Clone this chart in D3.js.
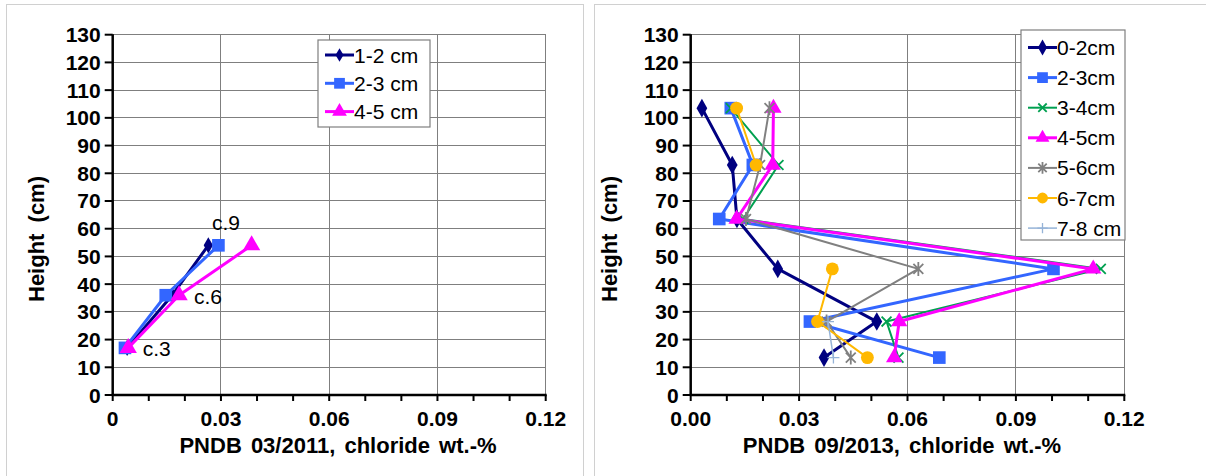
<!DOCTYPE html>
<html>
<head>
<meta charset="utf-8">
<script src="https://cdn.jsdelivr.net/npm/d3@7"></script>
<style>
  html, body { margin: 0; padding: 0; background: #fff; }
  svg { display: block; font-family: Arial, "Liberation Sans", sans-serif; }
</style>
</head>
<body>
<svg id="chart" width="1206" height="476"></svg>
<script>
// Sampling heights (cm) for each profile
const heights2011 = [17, 36, 54];
const heights2013 = [103.5, 83, 63.5, 45.5, 26.5, 13.5];

// PNDB 03/2011 chloride content (wt.-%) per depth interval
const s2011_12 = [0.0040, 0.0165, 0.0265];
const s2011_23 = [0.0034, 0.0147, 0.0293];
const s2011_45 = [0.0043, 0.0184, 0.0385];

// PNDB 09/2013 chloride content (wt.-%) per depth interval
const s2013_02 = [0.0031, 0.0115, 0.0128, 0.0241, 0.0515, 0.0369];
const s2013_23 = [0.0111, 0.0172, 0.0079, 0.1004, 0.0330, 0.0688];
const s2013_34 = [0.0111, 0.0243, 0.0145, 0.1135, 0.0542, 0.0575];
const s2013_45 = [0.0229, 0.0227, 0.0127, 0.1114, 0.0577, 0.0563];
const s2013_56 = [0.0218, 0.0192, 0.0153, 0.0630, 0.0376, 0.0443];
const s2013_67 = [0.0127, 0.0181, null, 0.0392, 0.0351, 0.0489];
const s2013_78 = [null, null, null, null, 0.0380, 0.0395];

// Axis ticks
const yTicks = d3.range(0, 131, 10);
const xMajor = [0, 0.03, 0.06, 0.09, 0.12];
const xMinor = d3.range(0, 0.1201, 0.01);
const xLabels2011 = ["0", "0.03", "0.06", "0.09", "0.12"];
const xLabels2013 = ["0.00", "0.03", "0.06", "0.09", "0.12"];

// Core-section annotations (value, height, label)
const notes2011 = [
  { v: 0.0275, h: 59.5, t: "c.9" },
  { v: 0.0225, h: 32.8, t: "c.6" },
  { v: 0.0083, h: 14.1, t: "c.3" }
];

const svg = d3.select("#chart");

// panel frames
svg.append("rect").attr("x", 6.5).attr("y", 4.5).attr("width", 577).attr("height", 480)
  .attr("fill", "none").attr("stroke", "#d0d0d0");
svg.append("rect").attr("x", 594.5).attr("y", 4.5).attr("width", 620).attr("height", 480)
  .attr("fill", "none").attr("stroke", "#d0d0d0");

// marker shapes: filled d3 symbols or stroked line glyphs
function markerPath(kind, r) {
  const p = d3.path();
  const seg = (a) => {
    const dx = r * Math.cos(a), dy = r * Math.sin(a);
    p.moveTo(-dx, -dy); p.lineTo(dx, dy);
  };
  if (kind === "x") { seg(Math.PI / 4); seg(-Math.PI / 4); }
  else if (kind === "star") { seg(Math.PI / 4); seg(-Math.PI / 4); seg(Math.PI / 2); }
  else if (kind === "plus") { seg(0); seg(Math.PI / 2); }
  return p.toString();
}
const symbolTypes = { diamond: d3.symbolDiamond, square: d3.symbolSquare, triangle: d3.symbolTriangle, circle: d3.symbolCircle };

function drawMarker(sel, s, scale) {
  if (symbolTypes[s.symbol]) {
    sel.attr("d", d3.symbol().type(symbolTypes[s.symbol]).size(s.size * scale * scale)())
      .attr("fill", s.color).attr("stroke", "none");
  } else {
    sel.attr("d", markerPath(s.symbol, s.size * scale))
      .attr("fill", "none").attr("stroke", s.color).attr("stroke-width", s.sw);
  }
}

function drawPanel(cfg) {
  const x = d3.scaleLinear().domain([0, 0.12]).range([cfg.x0, cfg.x1]);
  const y = d3.scaleLinear().domain([0, 130]).range([395, 34.7]);
  const g = svg.append("g");

  // grid
  g.selectAll(".hg").data(yTicks.filter(d => d > 0)).join("line")
    .attr("x1", x(0)).attr("x2", x(0.12))
    .attr("y1", d => y(d)).attr("y2", d => y(d))
    .attr("stroke", "#7f7f7f").attr("stroke-width", 1).attr("shape-rendering", "crispEdges");
  g.selectAll(".vg").data(xMajor.filter(d => d > 0)).join("line")
    .attr("x1", d => x(d)).attr("x2", d => x(d))
    .attr("y1", y(0)).attr("y2", y(130))
    .attr("stroke", "#7f7f7f").attr("stroke-width", 1).attr("shape-rendering", "crispEdges");

  // axes
  g.append("line").attr("x1", x(0)).attr("x2", x(0)).attr("y1", y(0) + 1).attr("y2", y(130) - 0.5)
    .attr("stroke", "#000").attr("stroke-width", 2.5);
  g.append("line").attr("x1", x(0) - 1).attr("x2", x(0.12) + 1).attr("y1", y(0)).attr("y2", y(0))
    .attr("stroke", "#000").attr("stroke-width", 2.5);
  g.selectAll(".yt").data(yTicks).join("line")
    .attr("x1", x(0) - 8).attr("x2", x(0))
    .attr("y1", d => y(d)).attr("y2", d => y(d))
    .attr("stroke", "#000").attr("stroke-width", 2);
  g.selectAll(".xt").data(xMinor).join("line")
    .attr("x1", d => x(d)).attr("x2", d => x(d))
    .attr("y1", y(0)).attr("y2", y(0) + 6)
    .attr("stroke", "#000").attr("stroke-width", 2);

  // tick labels
  g.selectAll(".yl").data(yTicks).join("text")
    .attr("x", x(0) - 12).attr("y", d => y(d) + 7.5)
    .attr("text-anchor", "end").attr("font-size", 21).attr("font-weight", "bold")
    .text(d => d);
  g.selectAll(".xl").data(xMajor).join("text")
    .attr("x", d => x(d)).attr("y", 426)
    .attr("text-anchor", "middle").attr("font-size", 21).attr("font-weight", "bold")
    .text((d, i) => cfg.xLabels[i]);

  // titles
  g.append("text").attr("x", cfg.xTitleX).attr("y", 453)
    .attr("text-anchor", "middle").attr("font-size", 22).attr("font-weight", "bold")
    .attr("word-spacing", 3)
    .text(cfg.xTitle);
  g.append("text")
    .attr("transform", `translate(${cfg.yTitleX},239) rotate(-90)`)
    .attr("text-anchor", "middle").attr("font-size", 22).attr("font-weight", "bold")
    .attr("word-spacing", 5)
    .text("Height (cm)");

  // series
  cfg.series.forEach(s => {
    const pts = s.values.map((v, i) => ({ v, h: cfg.heights[i] }));
    const line = d3.line().defined(d => d.v != null).x(d => x(d.v)).y(d => y(d.h));
    g.append("path").attr("d", line(pts)).attr("fill", "none")
      .attr("stroke", s.color).attr("stroke-width", s.lw).attr("stroke-linejoin", "round");
    g.selectAll(null).data(pts.filter(d => d.v != null)).join("path")
      .attr("transform", d => `translate(${x(d.v)},${y(d.h)})`)
      .call(drawMarker, s, 1);
  });

  // legend
  const L = cfg.legend;
  g.append("rect").attr("x", L.x).attr("y", L.y).attr("width", L.w).attr("height", L.h)
    .attr("fill", "#fff").attr("stroke", "#7f7f7f").attr("stroke-width", 1.2);
  cfg.series.forEach((s, i) => {
    const ly = L.y + L.first + i * L.step;
    g.append("line").attr("x1", L.x + 7).attr("x2", L.x + 36).attr("y1", ly).attr("y2", ly)
      .attr("stroke", s.color).attr("stroke-width", s.lw);
    g.append("path").attr("transform", `translate(${L.x + 21.5},${ly})`)
      .call(drawMarker, s, 0.85);
    g.append("text").attr("x", L.x + 36).attr("y", ly + 7.5)
      .attr("font-size", 21).text(s.name);
  });

  // annotations
  (cfg.notes || []).forEach(n => {
    g.append("text").attr("x", x(n.v)).attr("y", y(n.h))
      .attr("font-size", 21).text(n.t);
  });
}

drawPanel({
  x0: 112.7, x1: 545.7,
  heights: heights2011,
  xLabels: xLabels2011,
  xTitle: "PNDB 03/2011, chloride wt.-%",
  xTitleX: 338, yTitleX: 44,
  legend: { x: 318, y: 40, w: 112, h: 87, first: 15, step: 28.3 },
  notes: notes2011,
  series: [
    { name: "1-2 cm", values: s2011_12, color: "#000080", lw: 3, symbol: "diamond", size: 75 },
    { name: "2-3 cm", values: s2011_23, color: "#3366ff", lw: 3, symbol: "square", size: 160 },
    { name: "4-5 cm", values: s2011_45, color: "#ff00ff", lw: 3, symbol: "triangle", size: 130 }
  ]
});

drawPanel({
  x0: 690.7, x1: 1124.3,
  heights: heights2013,
  xLabels: xLabels2013,
  xTitle: "PNDB 09/2013, chloride wt.-%",
  xTitleX: 902, yTitleX: 617,
  legend: { x: 1021, y: 30, w: 104, h: 210, first: 17.5, step: 30.1 },
  series: [
    { name: "0-2cm", values: s2013_02, color: "#000080", lw: 3, symbol: "diamond", size: 100 },
    { name: "2-3cm", values: s2013_23, color: "#3366ff", lw: 3, symbol: "square", size: 160 },
    { name: "3-4cm", values: s2013_34, color: "#00a050", lw: 2, symbol: "x", size: 7, sw: 1.8 },
    { name: "4-5cm", values: s2013_45, color: "#ff00ff", lw: 3, symbol: "triangle", size: 115 },
    { name: "5-6cm", values: s2013_56, color: "#808080", lw: 2, symbol: "star", size: 7, sw: 1.8 },
    { name: "6-7cm", values: s2013_67, color: "#ffb800", lw: 2, symbol: "circle", size: 130 },
    { name: "7-8 cm", values: s2013_78, color: "#95b3d7", lw: 1.5, symbol: "plus", size: 6, sw: 1.3 }
  ]
});
</script>
</body>
</html>
